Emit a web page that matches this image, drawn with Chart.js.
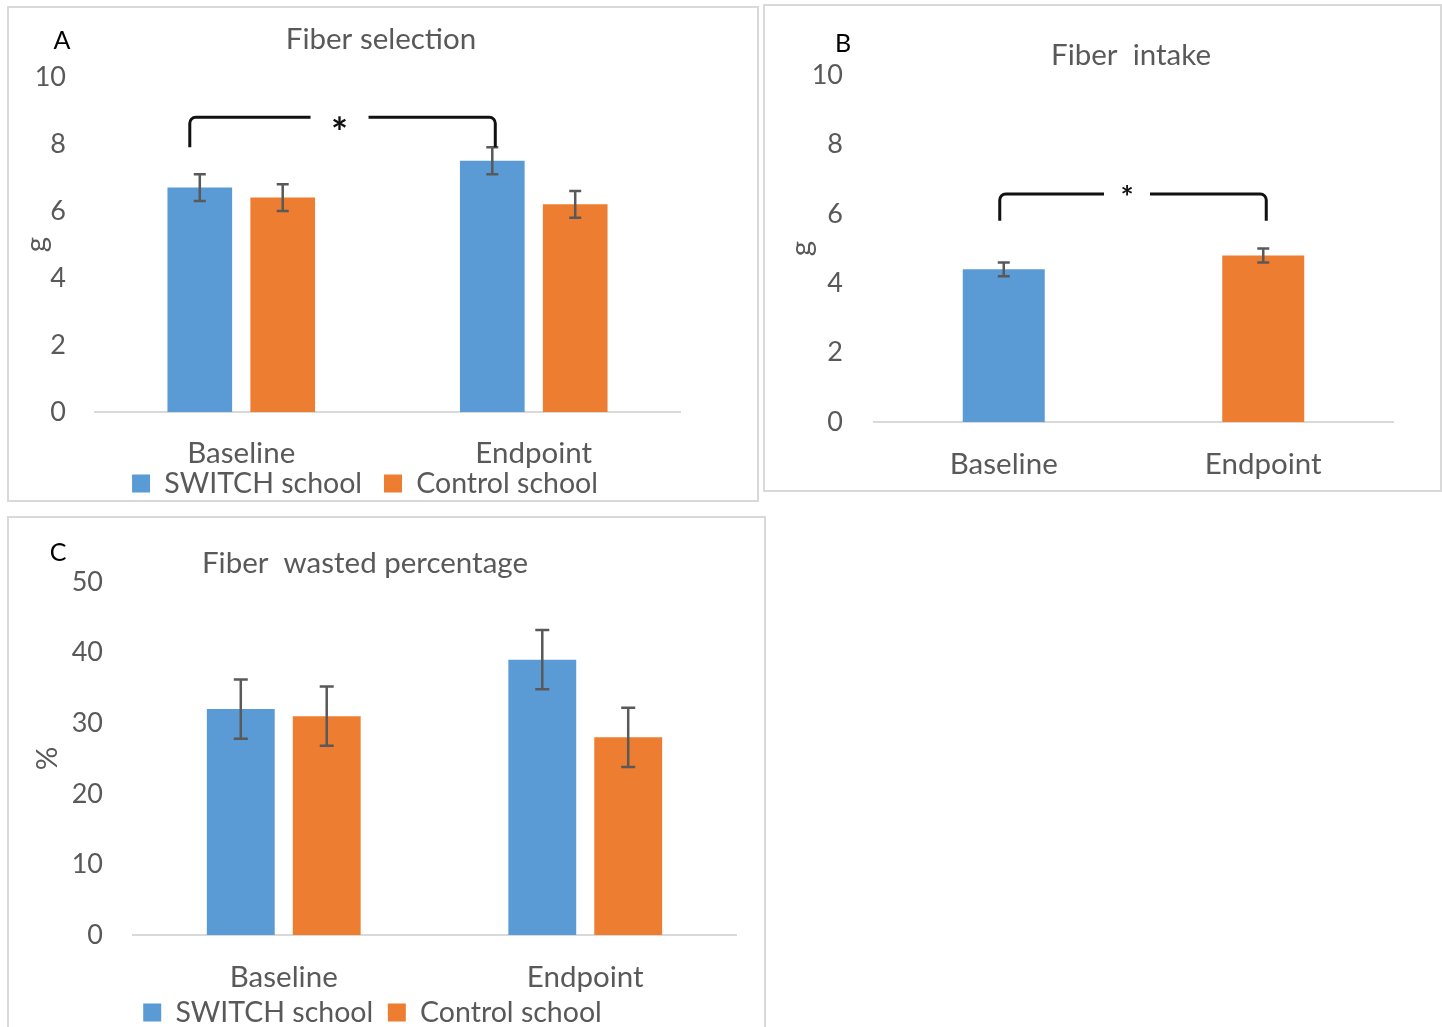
<!DOCTYPE html>
<html lang="en">
<head>
    <meta charset="UTF-8">
    <title>Fiber selection, intake and waste</title>
    <script src="https://cdn.jsdelivr.net/npm/chart.js"></script>
    <style>
        body { margin: 0; background: #fff; overflow: hidden; }
        .panel { position: absolute; border: 2px solid #d9d9d9; box-sizing: border-box; background: #fff; }
        .panel canvas { display: block; }
        #panelA { left: 7px; top: 6px; width: 752px; height: 496px; }
        #panelB { left: 763px; top: 4px; width: 679px; height: 488px; }
        #panelC { left: 7px; top: 516px; width: 759px; height: 520px; }
    </style>
</head>
<body>
    <div class="panel" id="panelA"><canvas id="chartA"></canvas></div>
    <div class="panel" id="panelB"><canvas id="chartB"></canvas></div>
    <div class="panel" id="panelC"><canvas id="chartC"></canvas></div>

    <script>
        const categories = ['Baseline', 'Endpoint'];
        const seriesNames = ['SWITCH school', 'Control school'];

        // A: fiber selection (g)
        const selectionSwitch = [6.7, 7.5];
        const selectionSwitchErr = [0.4, 0.4];
        const selectionControl = [6.4, 6.2];
        const selectionControlErr = [0.4, 0.4];

        // B: fiber intake (g)
        const intakeValues = [4.4, 4.8];
        const intakeErr = [0.2, 0.2];

        // C: fiber wasted percentage (%)
        const wastedSwitch = [32, 39];
        const wastedSwitchErr = [4.2, 4.2];
        const wastedControl = [31, 28];
        const wastedControlErr = [4.2, 4.2];

        const gTicks = [0, 2, 4, 6, 8, 10];
        const pctTicks = [0, 10, 20, 30, 40, 50];

        const BLUE = '#5b9bd5';
        const ORANGE = '#ed7d31';
        const GREY = '#595959';
        const FONT = 'Lato';
        const WORD = 29.5;   // font size for words
        const NUM = 27;      // font size for tick numbers
        const LEG = 28.5;    // legend font size

        Chart.defaults.font.family = FONT;
        Chart.defaults.color = GREY;

        // error bars, significance bracket, panel letter and title
        const annotate = {
            id: 'annotate',
            afterDatasetsDraw(chart, args, opts) {
                const ctx = chart.ctx;
                const y = chart.scales.y;
                ctx.save();
                ctx.strokeStyle = GREY;
                ctx.lineWidth = 2.5;
                chart.data.datasets.forEach((ds, di) => {
                    const meta = chart.getDatasetMeta(di);
                    meta.data.forEach((bar, i) => {
                        const v = ds.data[i], e = ds.errors[i];
                        const t = y.getPixelForValue(v + e), b = y.getPixelForValue(v - e);
                        const cap = opts.cap;
                        ctx.beginPath();
                        ctx.moveTo(bar.x, t); ctx.lineTo(bar.x, b);
                        ctx.moveTo(bar.x - cap, t); ctx.lineTo(bar.x + cap, t);
                        ctx.moveTo(bar.x - cap, b); ctx.lineTo(bar.x + cap, b);
                        ctx.stroke();
                    });
                });

                const br = opts.bracket;
                if (br) {
                    const x1 = chart.getDatasetMeta(br.from[0]).data[br.from[1]].x + br.dx[0];
                    const x2 = chart.getDatasetMeta(br.to[0]).data[br.to[1]].x + br.dx[1];
                    const yl = y.getPixelForValue(br.level);
                    const yd = y.getPixelForValue(br.drop);
                    const mid = (x1 + x2) / 2 + br.midDx;
                    ctx.strokeStyle = '#111';
                    ctx.lineWidth = 3;
                    ctx.lineJoin = 'round';
                    ctx.beginPath();
                    ctx.moveTo(x1, yd);
                    ctx.arcTo(x1, yl, x1 + 20, yl, 6);
                    ctx.lineTo(mid - br.gap, yl);
                    ctx.moveTo(mid + br.gap, yl);
                    ctx.arcTo(x2, yl, x2, yd, 6);
                    ctx.lineTo(x2, yd);
                    ctx.stroke();
                    ctx.fillStyle = '#111';
                    ctx.font = 'bold ' + br.starSize + 'px ' + FONT;
                    ctx.textAlign = 'center';
                    ctx.textBaseline = 'middle';
                    ctx.fillText('*', mid, yl + br.starDy);
                }

                ctx.textAlign = 'center';
                ctx.textBaseline = 'middle';
                ctx.fillStyle = '#000';
                ctx.font = '25px ' + FONT;
                ctx.fillText(opts.letter, opts.letterPos[0], opts.letterPos[1]);
                ctx.fillStyle = GREY;
                ctx.font = WORD + 'px ' + FONT;
                ctx.fillText(opts.title, opts.titlePos[0], opts.titlePos[1]);
                ctx.restore();
            }
        };

        function yScale(max, ticks, title, width, padding, titlePad) {
            return {
                min: 0, max: max,
                afterBuildTicks: s => { s.ticks = ticks.map(v => ({ value: v })); },
                afterFit: s => { s.width = width; },
                grid: { display: false, drawTicks: false },
                border: { display: false },
                ticks: { padding: padding, color: GREY, font: { size: NUM } },
                title: { display: true, text: title, color: GREY, font: { size: WORD }, padding: { top: titlePad, bottom: 0 } }
            };
        }

        // empty right-hand axis, only reserves room so the legend centres like the original
        function spacer(width) {
            return {
                type: 'linear', position: 'right',
                afterFit: s => { s.width = width; },
                grid: { display: false, drawTicks: false },
                border: { display: false },
                ticks: { display: false }
            };
        }

        function xScale(height, padding) {
            return {
                afterFit: s => { s.height = height; },
                grid: { display: false, drawTicks: false },
                border: { display: true, color: '#d9d9d9', width: 2 },
                ticks: { padding: padding, color: GREY, font: { size: WORD } }
            };
        }

        // spaces after the first label widen the gap between the two entries
        function legend(gapSpaces) {
            return {
                display: true,
                position: 'bottom',
                labels: {
                    boxWidth: 18, boxHeight: 18, padding: 0, color: GREY, font: { size: LEG },
                    generateLabels: chart => {
                        const items = Chart.defaults.plugins.legend.labels.generateLabels(chart);
                        items[0].text += ' '.repeat(gapSpaces);
                        return items;
                    }
                }
            };
        }

        function sizeCanvas(id, w, h) {
            const c = document.getElementById(id);
            c.width = w; c.height = h;
            c.style.width = w + 'px'; c.style.height = h + 'px';
            return c;
        }

        // Panel A
        new Chart(sizeCanvas('chartA', 748, 492), {
            type: 'bar',
            data: {
                labels: categories,
                datasets: [
                    { label: seriesNames[0], data: selectionSwitch, errors: selectionSwitchErr, backgroundColor: BLUE },
                    { label: seriesNames[1], data: selectionControl, errors: selectionControlErr, backgroundColor: ORANGE }
                ]
            },
            options: {
                responsive: false,
                animation: false,
                categoryPercentage: 0.567,
                barPercentage: 0.78,
                layout: { padding: { left: 0, right: 36, top: 69, bottom: -7.75 } },
                scales: { x: xScale(57.25, 23.3), y: yScale(10, gTicks, 'g', 86, 29, 10), y2: spacer(41) },
                plugins: {
                    legend: legend(3),
                    tooltip: { enabled: false },
                    annotate: {
                        cap: 6,
                        letter: 'A', letterPos: [53, 33],
                        title: 'Fiber selection', titlePos: [372, 31],
                        bracket: { from: [0, 0], to: [0, 1], dx: [-10, 3], midDx: -3, level: 8.8, drop: 7.9, gap: 29, starSize: 40, starDy: 17 }
                    }
                }
            },
            plugins: [annotate]
        });

        // Panel B
        new Chart(sizeCanvas('chartB', 675, 484), {
            type: 'bar',
            data: {
                labels: categories,
                datasets: [
                    { label: 'Fiber intake', data: intakeValues, errors: intakeErr, backgroundColor: [BLUE, ORANGE] }
                ]
            },
            options: {
                responsive: false,
                animation: false,
                categoryPercentage: 0.316,
                barPercentage: 1,
                layout: { padding: { left: 0, right: 47, top: 69, bottom: 0 } },
                scales: { x: xScale(68, 24.3), y: yScale(10, gTicks, 'g', 109, 31, 19) },
                plugins: {
                    legend: { display: false },
                    tooltip: { enabled: false },
                    annotate: {
                        cap: 6,
                        letter: 'B', letterPos: [78, 38],
                        title: 'Fiber  intake', titlePos: [366, 49],
                        bracket: { from: [0, 0], to: [0, 1], dx: [-4, 3], midDx: -6, level: 6.57, drop: 5.8, gap: 23, starSize: 31, starDy: 4 }
                    }
                }
            },
            plugins: [annotate]
        });

        // Panel C
        new Chart(sizeCanvas('chartC', 755, 516), {
            type: 'bar',
            data: {
                labels: categories,
                datasets: [
                    { label: seriesNames[0], data: wastedSwitch, errors: wastedSwitchErr, backgroundColor: BLUE },
                    { label: seriesNames[1], data: wastedControl, errors: wastedControlErr, backgroundColor: ORANGE }
                ]
            },
            options: {
                responsive: false,
                animation: false,
                categoryPercentage: 0.57,
                barPercentage: 0.79,
                layout: { padding: { left: 0, right: 28, top: 64, bottom: -2.75 } },
                scales: { x: xScale(63.25, 24.3), y: yScale(50, pctTicks, '%', 124, 30, 21) },
                plugins: {
                    legend: legend(2),
                    tooltip: { enabled: false },
                    annotate: {
                        cap: 7,
                        letter: 'C', letterPos: [49, 35],
                        title: 'Fiber  wasted percentage', titlePos: [356, 45]
                    }
                }
            },
            plugins: [annotate]
        });
    </script>
</body>
</html>
